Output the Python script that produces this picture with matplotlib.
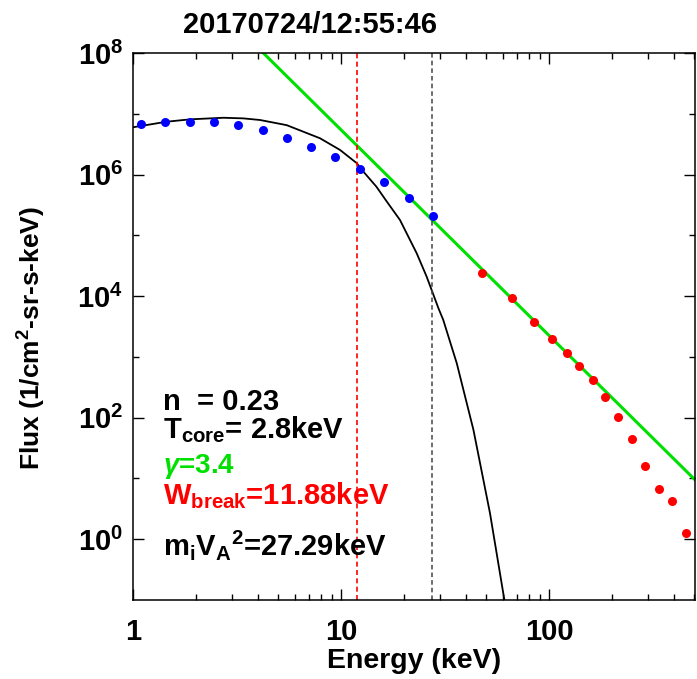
import matplotlib
matplotlib.use("Agg")
import matplotlib.pyplot as plt
from matplotlib.ticker import FixedLocator, NullFormatter

plt.rcParams["font.family"] = ["Liberation Sans", "DejaVu Sans"]
plt.rcParams["font.weight"] = "bold"
plt.rcParams["mathtext.fontset"] = "custom"
plt.rcParams["mathtext.rm"] = "Liberation Sans:bold"
plt.rcParams["mathtext.bf"] = "Liberation Sans:bold"
plt.rcParams["mathtext.it"] = "Liberation Sans:italic"

title = "20170724/12:55:46"

# measured spectrum, below the break (blue) and above (red)
e_low = [1.09, 1.43, 1.87, 2.45, 3.21, 4.2, 5.5, 7.17, 9.39, 12.3, 16.1, 21.2, 27.6]
f_low = [6.7e6, 7.25e6, 7.4e6, 7.25e6, 6.5e6, 5.36e6, 4.05e6, 2.88e6, 1.97e6,
         1.24e6, 7.5e5, 4.1e5, 2.1e5]
e_high = [47.5, 66.2, 84.7, 103.7, 122, 139.5, 161.9, 186.3, 214.8, 250, 290,
          336, 391, 453]
f_high = [2.38e4, 9.25e3, 3.72e3, 1.98e3, 1.16e3, 711, 414, 222, 104, 44, 16,
          6.7, 4.2, 1.27]

# Maxwellian core fit (black curve)
e_core = [1.0, 1.45, 1.88, 2.72, 3.39, 4.08, 5.48, 7.93, 9.89, 11.9, 12.8,
          14.8, 16.6, 19.2, 23.1, 25.8, 29.4, 31.0, 36.0, 43.3, 52.0, 61.0]
f_core = [6.0e6, 7.4e6, 8.1e6, 8.6e6, 8.4e6, 7.9e6, 6.5e6, 3.95e6, 2.54e6,
          1.54e6, 1.12e6, 6.3e5, 3.59e5, 1.79e5, 5.08e4, 2.09e4, 6.3e3, 4.06e3,
          787, 63, 2.69, 0.1]

# power-law fit (green line) end points
e_pow = [4.23, 503]
f_pow = [1e8, 9.5]

w_break = 11.88
mi_va2 = 27.29

fig = plt.figure(figsize=(6.97, 6.79), dpi=100)
ax = fig.add_axes([133 / 697, 1 - 600 / 679, 562 / 697, 547 / 679])

ax.plot(e_core, f_core, color="black", lw=1.3)
ax.plot(e_pow, f_pow, color="#00e000", lw=2.2)
ax.axvline(w_break, color="#ff0000", ls=(0, (3, 2)), lw=1.2)
ax.axvline(mi_va2, color="#444444", ls=(0, (3, 2)), lw=1.1)
ax.plot(e_low, f_low, "o", color="blue", ms=6.5, mew=0)
ax.plot(e_high, f_high, "o", color="red", ms=6.5, mew=0)

ax.set_xscale("log")
ax.set_yscale("log")
ax.set_xlim(1, 503)
ax.set_ylim(0.1, 1e8)

ax.xaxis.set_major_locator(FixedLocator([1, 10, 100]))
ax.xaxis.set_minor_locator(FixedLocator(
    [m * d for d in (1, 10, 100) for m in range(2, 10)]))
ax.xaxis.set_minor_formatter(NullFormatter())
ax.set_xticklabels(["1", "10", "100"])
ax.yaxis.set_major_locator(FixedLocator([1e0, 1e2, 1e4, 1e6, 1e8]))
ax.yaxis.set_minor_locator(FixedLocator([1e1, 1e3, 1e5, 1e7]))
ax.yaxis.set_minor_formatter(NullFormatter())
ax.set_yticklabels([r"10$^{\rm %d}$" % p for p in (0, 2, 4, 6, 8)])

ax.tick_params(which="both", direction="in", top=True, right=True, width=1,
               labelsize=21)
ax.tick_params(which="major", length=8)
ax.tick_params(which="minor", length=4)
ax.tick_params(axis="x", which="major", pad=13)
ax.tick_params(axis="y", which="major", pad=7)
for s in ax.spines.values():
    s.set_linewidth(1.1)

ax.set_xlabel("Energy (keV)", fontsize=20.5, fontweight="bold")
ax.xaxis.set_label_coords(0.501, -0.088)
ax.set_ylabel(r"Flux (1/cm$^{\rm 2}$-sr-s-keV)", fontsize=19,
              fontweight="bold")
ax.yaxis.set_label_coords(-0.151, 0.479)
fig.text(310 / 697, 1 - 25 / 679, title, fontsize=21, fontweight="bold",
         ha="center", va="center")

tx = 0.053
ax.text(tx, 0.347, "n  = 0.23", transform=ax.transAxes, fontsize=21)
ax.text(tx, 0.296, r"T$_{\rm core}$= 2.8keV", transform=ax.transAxes,
        fontsize=21)
ax.text(tx, 0.233, r"$\gamma$=3.4", transform=ax.transAxes, fontsize=20,
        color="#00e000")
ax.text(tx, 0.175, r"W$_{\rm break}$=11.88keV", transform=ax.transAxes,
        fontsize=21, color="red")
ax.text(tx, 0.082, r"m$_{\rm i}$V$_{\rm A}$${}^{\rm 2}$=27.29keV",
        transform=ax.transAxes, fontsize=21)

fig.savefig("out.png", dpi=100)
